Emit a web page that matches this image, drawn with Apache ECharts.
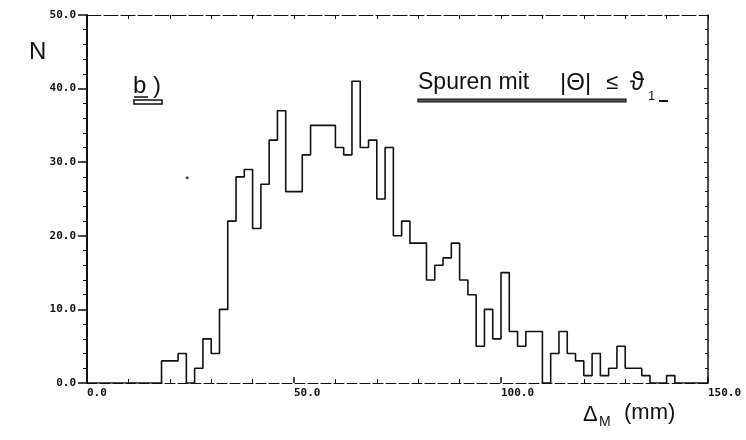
<!DOCTYPE html>
<html>
<head>
<meta charset="utf-8">
<script src="https://cdn.jsdelivr.net/npm/echarts@6/dist/echarts.min.js"></script>
<style>
html,body{margin:0;padding:0;background:#fff;}
#chart{width:746px;height:440px;}
</style>
</head>
<body>
<div id="chart"></div>
<script>
// Histogram: bin width 2 mm, bins from 0 to 150
const binStart = 0;
const binWidth = 2;
const counts = [
  0,0,0,0,0,0,0,0,0,      // 0-18
  3,3,4,0,2,6,4,10,22,28, // 18-38
  29,21,27,33,37,26,26,31,35,35, // 38-58
  35,32,31,41,32,33,25,32,20,22, // 58-78
  19,19,14,16,17,19,14,12,5,10,  // 78-98
  6,15,7,5,7,7,0,4,7,4,          // 98-118
  3,1,4,1,2,5,2,2,1,0,           // 118-138
  0,1,0,0,0,0                    // 138-150
];
const xTicks = [0, 50, 100, 150];
const yTicks = [0, 10, 20, 30, 40, 50];
const specks = [[24.2, 27.9]];

const stepData = counts.map((c, i) => [binStart + i * binWidth, c]);
stepData.push([binStart + counts.length * binWidth, counts[counts.length - 1]]);

const chart = echarts.init(document.getElementById('chart'));
const tickFont = {fontFamily: 'DejaVu Sans Mono', fontSize: 11, fontWeight: 'bold', color: '#111'};

chart.setOption({
  animation: false,
  backgroundColor: '#fff',
  grid: {left: 87, right: 38, top: 15, bottom: 57, containLabel: false},
  xAxis: [{
    type: 'value', min: xTicks[0], max: xTicks[xTicks.length - 1], interval: 50,
    position: 'bottom',
    axisLine: {onZero: false, lineStyle: {color: '#111', width: 1, type: [10, 3]}},
    axisTick: {inside: true, length: 6, lineStyle: {color: '#111', width: 1.5}},
    minorTick: {show: true, splitNumber: 5, length: 4, lineStyle: {color: '#111', width: 1}},
    splitLine: {show: false},
    axisLabel: Object.assign({margin: 5, align: 'left', formatter: v => v.toFixed(1)}, tickFont)
  }, {
    type: 'value', min: 0, max: 150, interval: 10, position: 'top',
    axisLine: {onZero: false, lineStyle: {color: '#111', width: 1, type: [14, 3]}},
    axisTick: {inside: true, length: 4, lineStyle: {color: '#111'}},
    splitLine: {show: false},
    axisLabel: {show: false}
  }],
  yAxis: [{
    type: 'value', min: yTicks[0], max: yTicks[yTicks.length - 1], interval: 10,
    position: 'left',
    axisLine: {onZero: false, lineStyle: {color: '#111', width: 2}},
    axisTick: {inside: false, length: 9, lineStyle: {color: '#111', width: 1.5}},
    minorTick: {show: true, splitNumber: 5, length: 4, lineStyle: {color: '#111', width: 1}},
    splitLine: {show: false},
    axisLabel: Object.assign({margin: 11, formatter: v => v.toFixed(1)}, tickFont)
  }, {
    type: 'value', min: 0, max: 50, interval: 10, position: 'right',
    axisLine: {onZero: false, lineStyle: {color: '#111', width: 1.5}},
    axisTick: {inside: true, length: 4, lineStyle: {color: '#111'}},
    minorTick: {show: true, splitNumber: 5, length: 3, lineStyle: {color: '#111'}},
    splitLine: {show: false},
    axisLabel: {show: false}
  }],
  series: [{
    type: 'line', step: 'end', xAxisIndex: 0, yAxisIndex: 0,
    data: stepData, showSymbol: false, symbol: 'none',
    lineStyle: {color: '#111', width: 1.6}
  }, {
    type: 'scatter', xAxisIndex: 0, yAxisIndex: 0,
    data: specks, symbolSize: 3, itemStyle: {color: '#111'}
  }],
  graphic: [
    {type: 'text', left: 29, top: 40, style: {text: 'N', font: '24px "Liberation Sans"', fill: '#111'}},
    {type: 'text', left: 133, top: 74, style: {text: 'b )', font: '24px "Liberation Sans"', fill: '#111'}},
    {type: 'line', shape: {x1: 134, y1: 97, x2: 148, y2: 97}, style: {stroke: '#111', lineWidth: 1.5}},
    {type: 'rect', shape: {x: 134, y: 100, width: 28, height: 4}, style: {fill: '#fff', stroke: '#111', lineWidth: 1.5}},
    {type: 'text', left: 418, top: 71, style: {text: 'Spuren mit', font: '23px "Liberation Sans"', fill: '#111'}},
    {type: 'text', left: 560, top: 71, style: {text: '|\u0398|', font: '24px "Liberation Sans"', fill: '#111'}},
    {type: 'text', left: 606, top: 72, style: {text: '\u2264', font: '22px "Liberation Sans"', fill: '#111'}},
    {type: 'text', left: 630, top: 70, style: {text: '\u03d1', font: '26px "Liberation Sans"', fill: '#111'}},
    {type: 'text', left: 648, top: 90, style: {text: '1', font: '13px "Liberation Sans"', fill: '#111'}},
    {type: 'line', shape: {x1: 659, y1: 101, x2: 668, y2: 101}, style: {stroke: '#111', lineWidth: 2}},
    {type: 'rect', shape: {x: 418, y: 99, width: 208, height: 3}, style: {fill: '#555', stroke: '#111', lineWidth: 1.2}},
    {type: 'text', left: 583, top: 404, style: {text: '\u0394', font: '22px "Liberation Sans"', fill: '#111'}},
    {type: 'text', left: 599, top: 415, style: {text: 'M', font: '14px "Liberation Sans"', fill: '#111'}},
    {type: 'text', left: 624, top: 402, style: {text: '(mm)', font: '22px "Liberation Sans"', fill: '#111'}}
  ]
});
</script>
</body>
</html>
